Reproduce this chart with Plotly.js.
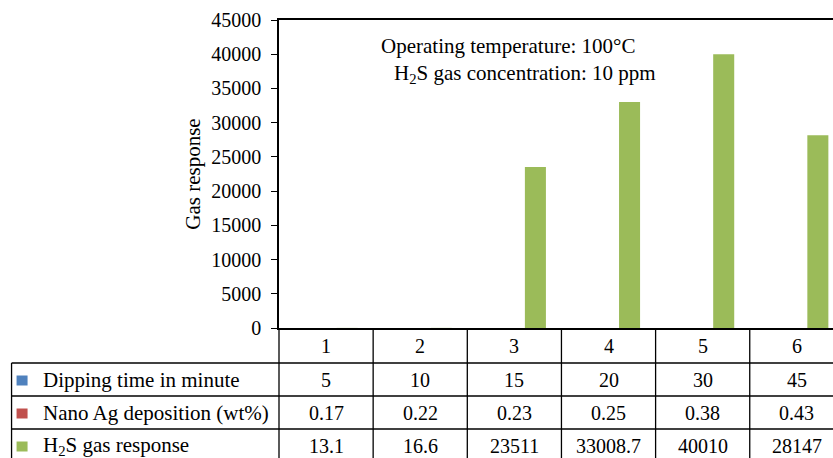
<!DOCTYPE html>
<html>
<head>
<meta charset="utf-8">
<script src="https://cdn.plot.ly/plotly-3.0.1.min.js"></script>
<style>html,body{margin:0;padding:0;background:#fff;}#chart{width:833px;height:458px;}</style>
</head>
<body>
<div id="chart"></div>
<script>
// ---- data ----
const categories = ['1', '2', '3', '4', '5', '6'];
const dippingTime = [5, 10, 15, 20, 30, 45];
const nanoAgDeposition = [0.17, 0.22, 0.23, 0.25, 0.38, 0.43];
const h2sResponse = [13.1, 16.6, 23511, 33008.7, 40010, 28147];
const seriesNames = ['Dipping time in minute', 'Nano Ag deposition (wt%)', 'H<sub>2</sub>S gas response'];
const yTicks = [0, 5000, 10000, 15000, 20000, 25000, 30000, 35000, 40000, 45000];
const noteLines = ['Operating temperature: 100°C', 'H<sub>2</sub>S gas concentration: 10 ppm'];

// ---- styles / layout ----
const colors = ['#4F81BD', '#C0504D', '#9BBB59'];
const FONT = 'Liberation Serif';
const W = 833, H = 458;
const plotLeft = 279.3, plotTop = 20, plotBottom = 328;
const colW = 94.1;
const plotW = W - plotLeft, plotH = plotBottom - plotTop;
const px2x = px => (px - plotLeft) / plotW;
const py2y = py => (plotBottom - py) / plotH;

const series = [dippingTime, nanoAgDeposition, h2sResponse];
// clustered layout: 3 slots per category, gap 0.33; the first two series are
// sub-pixel at this scale, so only the third slot (H2S response) is drawn.
const slotW = (1 - 0.33) / series.length;
const traces = [{
  type: 'bar', x: categories, y: h2sResponse, name: seriesNames[2],
  width: slotW, offset: slotW / 2,
  marker: {color: 'rgba(155,187,89,0.999)', line: {width: 0}}, showlegend: false, hoverinfo: 'skip'
}];

const rowLines = [363, 396, 429];
const rowCenters = [379.5, 412.5, 445.5];
const tableLeft = 12;
const lineStyle = {color: '#000', width: 1.3};
const shapes = [];
// horizontal row lines
rowLines.forEach(py => shapes.push({type: 'line', xref: 'paper', yref: 'paper',
  x0: px2x(tableLeft), x1: 1, y0: py2y(py), y1: py2y(py), line: lineStyle}));
// column separators (category boundaries)
for (let i = 0; i < categories.length - 1; i++) {
  shapes.push({type: 'line', xref: 'x', yref: 'paper', x0: i + 0.5, x1: i + 0.5,
    y0: 0, y1: py2y(H + 5), line: lineStyle});
}
shapes.push({type: 'line', xref: 'paper', yref: 'paper', x0: 0, x1: 0, y0: 0, y1: py2y(H + 5), line: lineStyle});
shapes.push({type: 'line', xref: 'paper', yref: 'paper', x0: px2x(tableLeft), x1: px2x(tableLeft),
  y0: py2y(rowLines[0]), y1: py2y(H + 5), line: lineStyle});
// legend keys
rowCenters.forEach((cy, i) => shapes.push({type: 'rect', xref: 'paper', yref: 'paper',
  x0: px2x(17), x1: px2x(28), y0: py2y(cy - 4), y1: py2y(cy + 6),
  line: {width: 0}, fillcolor: colors[i]}));

const annotations = [];
const txtFont = {family: FONT, size: 21, color: '#000'};
const numFont = {family: FONT, size: 20, color: '#000'};
// header row: category numbers
categories.forEach((c, j) => annotations.push({xref: 'x', yref: 'paper', x: j, y: py2y(345.5),
  text: c, showarrow: false, xanchor: 'center', yanchor: 'middle', font: numFont}));
// row labels and values
series.forEach((vals, i) => {
  annotations.push({xref: 'paper', yref: 'paper', x: px2x(41), y: py2y(rowCenters[i]),
    text: seriesNames[i], showarrow: false, xanchor: 'left', yanchor: 'middle', font: txtFont});
  vals.forEach((v, j) => annotations.push({xref: 'x', yref: 'paper', x: j, y: py2y(rowCenters[i]),
    text: String(v), showarrow: false, xanchor: 'center', yanchor: 'middle', font: numFont}));
});
// note text
annotations.push({xref: 'paper', yref: 'paper', x: px2x(508.5), y: py2y(46), text: noteLines[0],
  showarrow: false, xanchor: 'center', yanchor: 'middle', font: txtFont});
annotations.push({xref: 'paper', yref: 'paper', x: px2x(525.5), y: py2y(74), text: noteLines[1],
  showarrow: false, xanchor: 'center', yanchor: 'middle', font: txtFont});

const layout = {
  width: W, height: H,
  margin: {l: plotLeft, r: 0, t: plotTop, b: H - plotBottom, pad: 0},
  paper_bgcolor: '#fff', plot_bgcolor: '#fff',
  font: {family: FONT, size: 20, color: '#000'},
  xaxis: {
    type: 'category', range: [-0.5, -0.5 + plotW / colW], showticklabels: false,
    showgrid: false, zeroline: false, showline: true, linecolor: '#000', linewidth: 1.5,
    mirror: true, ticks: '', fixedrange: true
  },
  yaxis: {
    range: [0, 45000], tickvals: yTicks, ticktext: yTicks.map(String),
    showgrid: false, zeroline: false, showline: true, linecolor: '#000', linewidth: 1.5,
    ticks: 'outside', ticklen: 6, tickwidth: 1.3, tickcolor: '#000',
    tickfont: {family: FONT, size: 20, color: '#000'}, ticklabelstandoff: 6,
    title: {text: 'Gas response', font: {family: FONT, size: 21, color: '#000'}, standoff: 5},
    automargin: false, fixedrange: true
  },
  shapes: shapes, annotations: annotations
};

Plotly.newPlot('chart', traces, layout, {displayModeBar: false});
</script>
</body>
</html>
